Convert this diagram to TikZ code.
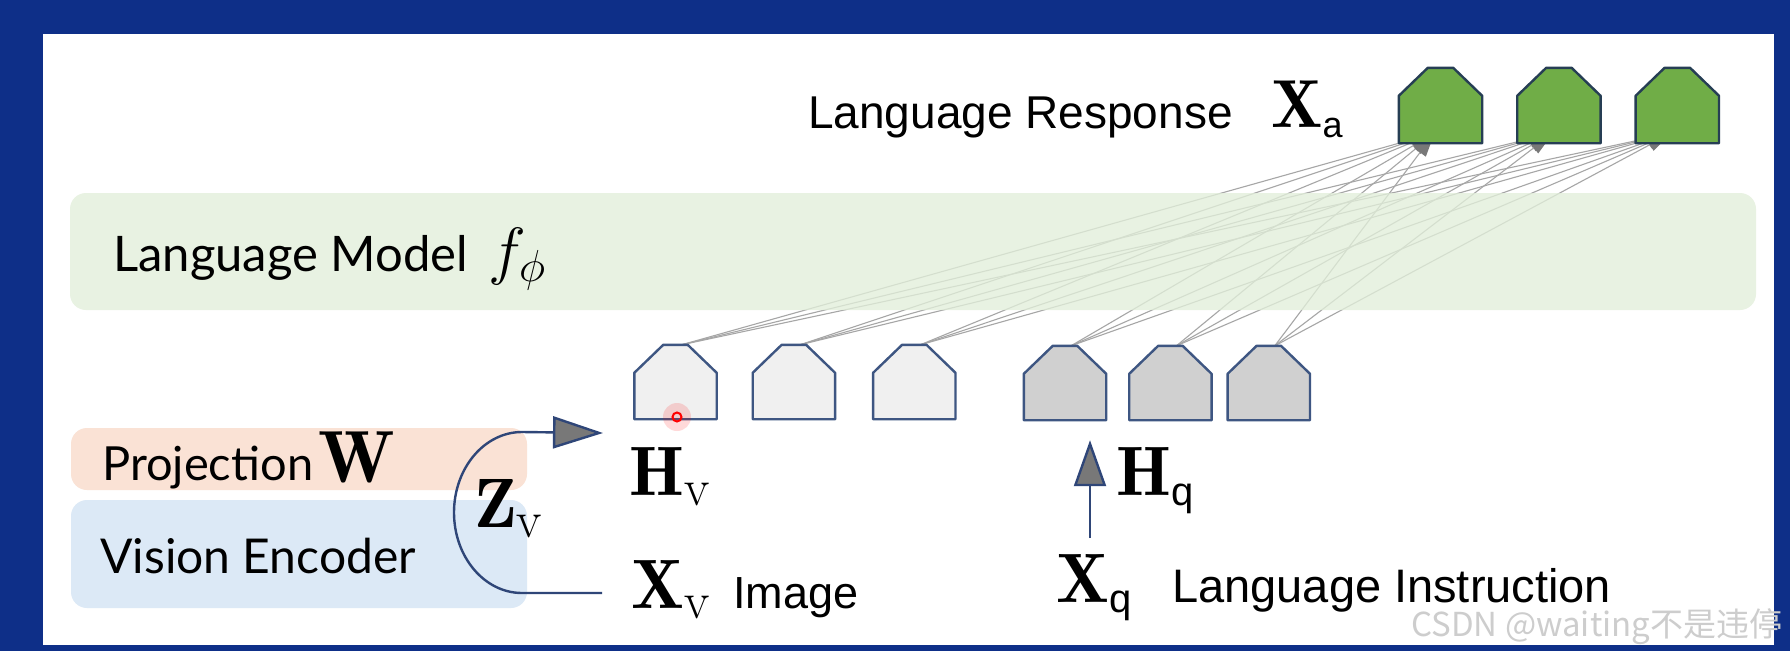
\RequirePackage{fix-cm}
\documentclass[tikz,border=0pt]{standalone}
\usepackage{amsmath}
\usepackage{fontspec}
\usetikzlibrary{positioning,arrows.meta,backgrounds,calc}
\newfontfamily\boxfont{Lato}
\newfontfamily\sayfont{Liberation Sans}
\newfontfamily\cjkfont{Noto Sans CJK SC}
\newcommand{\romsub}[1]{\text{\rmfamily\fontsize{52}{56}\selectfont #1}}
\newcommand{\saysub}[2]{\text{\sayfont\fontsize{#1}{#1}\selectfont #2}}
\definecolor{slide}{RGB}{14,47,136}
\definecolor{lmfill}{RGB}{226,239,218}
\definecolor{projfill}{RGB}{250,226,213}
\definecolor{encfill}{RGB}{220,233,246}
\definecolor{imgfill}{RGB}{240,240,240}
\definecolor{txtfill}{RGB}{208,208,208}
\definecolor{outfill}{RGB}{112,173,71}
\definecolor{tokenedge}{RGB}{62,86,130}
\definecolor{outedge}{RGB}{38,62,84}
\definecolor{arrowblue}{RGB}{47,70,120}
\definecolor{tipgray}{RGB}{120,120,120}
\definecolor{markgray}{RGB}{205,205,205}
\tikzset{
    token/.style = {
        rectangle,
        inner sep=0pt,
        minimum width=82pt,
        minimum height=74pt
    },
    outtoken/.style = {
        token,
        minimum width=83pt,
        minimum height=75pt
    },
    panel/.style = {
        rectangle,
        rounded corners=16pt,
        draw=none,
        inner sep=0pt
    },
    boxtext/.style = {
        inner sep=0pt,
        anchor=base west,
        font=\boxfont\fontsize{47}{54}\selectfont
    },
    saytext/.style = {
        inner sep=0pt,
        anchor=base west,
        font=\sayfont\fontsize{46}{54}\selectfont
    },
    symb/.style = {
        inner sep=0pt,
        anchor=base west,
        font=\fontsize{70}{76}\selectfont
    },
    feed/.style = {
        draw=arrowblue,
        line width=2.4pt,
        -{Triangle[length=50pt,width=32pt,fill=tipgray]}
    },
    attend/.style = {
        draw=gray!70,
        line width=1.1pt,
        -{Triangle[length=24pt,width=14pt,color=tipgray]}
    }
}
\begin{document}
\begin{tikzpicture}[x=1pt,y=-1pt]
    \useasboundingbox (0,0) rectangle (1790,651);
    % tokens
    \node[token] (i1) at (675.5,382) {};
    \node[token, right=36pt of i1] (i2) {};
    \node[token, right=38pt of i2] (i3) {};
    \node[token] (t1) at (1065,383) {};
    \node[token, right=23pt of t1] (t2) {};
    \node[token, right=16pt of t2] (t3) {};
    \node[outtoken] (o1) at (1440.5,105.5) {};
    \node[outtoken, right=35pt of o1] (o2) {};
    \node[outtoken, right=35pt of o2] (o3) {};
    \begin{scope}[on background layer]
        \fill[slide] (0,0) rectangle (1790,651);
        \fill[white] (43,34) rectangle (1774,645);
        \foreach \s in {i1,i2,i3,t1,t2,t3}
            \foreach \t in {o1,o2,o3}
                \draw[attend] ($(\s.north)+(6,0)$) -- ($(\t.south)+(-6,-10)$);
        \node[panel, fill=lmfill, fill opacity=0.78, minimum width=1686pt, minimum height=117pt] (lmband) at (913,251.5) {};
    \end{scope}
    % house outlines of the tokens
    \foreach \n/\c/\e in {i1/imgfill/tokenedge, i2/imgfill/tokenedge, i3/imgfill/tokenedge,
                          t1/txtfill/tokenedge, t2/txtfill/tokenedge, t3/txtfill/tokenedge,
                          o1/outfill/outedge, o2/outfill/outedge, o3/outfill/outedge}
        \filldraw[fill=\c, draw=\e, line width=2.4pt, line join=round]
            (\n.south west) -- (\n.south east) -- ($(\n.north east)+(0,28)$)
            -- ($(\n.north east)+(-29,0)$) -- ($(\n.north west)+(29,0)$)
            -- ($(\n.north west)+(0,28)$) -- cycle;
    % vision side
    \node[panel, fill=projfill, minimum width=456pt, minimum height=62pt] (projbox) at (299,459) {};
    \node[panel, fill=encfill, minimum width=456pt, minimum height=108pt] (encbox) at (299,554) {};
    \node[boxtext, font=\boxfont\fontsize{49}{56}\selectfont] (lmtext) at (113,271) {Language Model};
    \node[symb, font=\fontsize{64}{70}\selectfont] (fphi) at (488,272) {$f_{\phi}$};
    \node[boxtext] (projtext) at (102,480) {Projection};
    \node[symb, font=\fontsize{74}{80}\selectfont] (wmat) at (318,482) {$\mathbf{W}$};
    \node[boxtext, font=\boxfont\fontsize{48}{56}\selectfont] (enctext) at (100,573) {Vision Encoder};
    \node[symb] (zv) at (474,527) {$\mathbf{Z}_{\romsub{v}}$};
    \node[symb] (hv) at (629,495) {$\mathbf{H}_{\romsub{v}}$};
    \node[symb] (xv) at (631,608) {$\mathbf{X}_{\romsub{v}}$};
    \node[saytext, font=\sayfont\fontsize{45}{52}\selectfont] (imgtext) at (733,608) {Image};
    % language side
    \node[symb] (hq) at (1116,495) {$\mathbf{H}_{\saysub{40}{q}}$};
    \node[symb] (xq) at (1056,602) {$\mathbf{X}_{\saysub{40}{q}}$};
    \node[saytext, font=\sayfont\fontsize{47}{54}\selectfont] (instr) at (1172,602) {Language Instruction};
    \node[saytext] (resp) at (808,128) {Language Response};
    \node[symb, font=\fontsize{68}{74}\selectfont] (xa) at (1271,127) {$\mathbf{X}_{\saysub{36}{a}}$};
    % arrows
    \coordinate (zin) at (602,593);
    \coordinate (zout) at (603,433);
    \draw[feed] (zin) -- ++(-80,0) arc[start angle=270, end angle=90, x radius=68pt, y radius=80.5pt] -- (zout);
    \coordinate (qin) at (1090,538);
    \draw[feed, -{Triangle[length=46pt,width=32pt,fill=tipgray]}] (qin) -- ($(t1.south)+(25,20)$);
    \fill[red, opacity=0.15] (677,417) circle[radius=14pt];
    \node[circle, draw=red, line width=2pt, minimum size=9pt, inner sep=0pt] (cursor) at (677,417) {};
    \node[inner sep=0pt, anchor=base west, text=markgray, font=\cjkfont\fontsize{33}{38}\selectfont] (mark) at (1411,636) {CSDN @waiting不是违停};
\end{tikzpicture}
\end{document}
